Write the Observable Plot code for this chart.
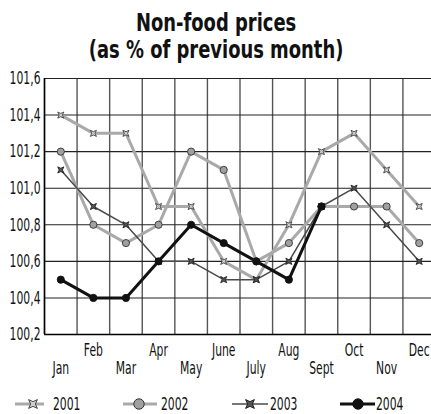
<!DOCTYPE html>
<html>
<head>
<meta charset="utf-8">
<script src="https://cdn.jsdelivr.net/npm/d3@7"></script>
<script src="https://cdn.jsdelivr.net/npm/@observablehq/plot@0.6"></script>
<style>
  html, body { margin: 0; padding: 0; background: #fff; overflow: hidden; }
  body { width: 431px; height: 414px; font-family: "Liberation Sans Narrow", "DejaVu Sans Condensed", "DejaVu Sans", sans-serif; }
  #title { box-sizing: border-box; height: 66px; padding-top: 10px; text-align: center; font-weight: bold; font-size: 24px; line-height: 27px; color: #111; transform: scaleX(0.83); transform-origin: 219px 0; }
  svg { display: block; }
</style>
</head>
<body>
<div id="title">Non-food prices<br>(as % of previous month)</div>
<div id="chart"></div>
<div id="legend"></div>
<script>
const months = ["Jan","Feb","Mar","Apr","May","June","July","Aug","Sept","Oct","Nov","Dec"];
const years = ["2001","2002","2003","2004"];
const v2001 = [101.4,101.3,101.3,100.9,100.9,100.6,100.5,100.8,101.2,101.3,101.1,100.9];
const v2002 = [101.2,100.8,100.7,100.8,101.2,101.1,100.6,100.7,100.9,100.9,100.9,100.7];
const v2003 = [101.1,100.9,100.8,100.6,100.6,100.5,100.5,100.6,100.9,101.0,100.8,100.6];
const v2004 = [100.5,100.4,100.4,100.6,100.8,100.7,100.6,100.5,100.9];
const yTicks = [100.2,100.4,100.6,100.8,101.0,101.2,101.4,101.6];

const FONT = '"Liberation Sans Narrow", "DejaVu Sans Condensed", "DejaVu Sans", sans-serif';
const TEXT_SCALE = "scale(0.8,1.2)";

// four-pointed concave star (x-shaped)
const star4 = {
  draw(ctx, size) {
    const R = Math.sqrt(size / Math.PI) * 1.2;
    const r = R * 0.38;
    for (let i = 0; i < 8; i++) {
      const a = Math.PI / 4 + i * Math.PI / 4;
      const rad = i % 2 === 0 ? R : r;
      const px = rad * Math.cos(a), py = rad * Math.sin(a);
      if (i === 0) ctx.moveTo(px, py); else ctx.lineTo(px, py);
    }
    ctx.closePath();
  }
};

const toRows = (vals) => vals.map((v, i) => ({m: i + 1, v}));
const d2001 = toRows(v2001), d2002 = toRows(v2002), d2003 = toRows(v2003), d2004 = toRows(v2004);

const styles = {
  "2001": {line: "#a9a9a9", lw: 3, symbol: star4, fill: "#cfcfcf", stroke: "#444", r: 3.6},
  "2002": {line: "#a9a9a9", lw: 3, symbol: "circle", fill: "#a0a0a0", stroke: "#333", r: 3.6},
  "2003": {line: "#4a4a4a", lw: 1.5, symbol: star4, fill: "#555", stroke: "#222", r: 3.6},
  "2004": {line: "#111", lw: 3, symbol: "circle", fill: "#111", stroke: "#111", r: 3.6}
};
const dataBy = {"2001": d2001, "2002": d2002, "2003": d2003, "2004": d2004};

const boundaries = d3.range(0, 13).map(i => i + 0.5);
const upperTicks = [2,4,6,8,10,12];
const lowerTicks = [1,3,5,7,9,11];
const fmtY = d => d.toFixed(1).replace(".", ",");

const seriesMarks = [];
for (const y of ["2002","2001","2003","2004"]) {
  const s = styles[y];
  seriesMarks.push(Plot.line(dataBy[y], {x: "m", y: "v", stroke: s.line, strokeWidth: s.lw, strokeLinejoin: "round"}));
}
for (const y of ["2002","2001","2003","2004"]) {
  const s = styles[y];
  seriesMarks.push(Plot.dot(dataBy[y], {x: "m", y: "v", symbol: s.symbol, r: s.r, fill: s.fill, stroke: s.stroke, strokeWidth: 0.9}));
}

const chart = Plot.plot({
  width: 431,
  height: 320,
  marginTop: 12,
  marginBottom: 52,
  marginLeft: 44,
  marginRight: 0,
  style: {fontFamily: FONT, fontSize: "15px", color: "#111", background: "#fff"},
  x: {type: "linear", domain: [0.5, 12.5], range: [44, 435]},
  y: {domain: [100.2, 101.6], range: [268, 12]},
  marks: [
    Plot.ruleX(boundaries, {x: d => d, stroke: "#555", strokeWidth: 1.4}),
    Plot.ruleY(yTicks, {y: d => d, x1: 0.5, x2: 12.5, stroke: "#222", strokeWidth: 1.1}),
    Plot.ruleX([0.5], {stroke: "#000", strokeWidth: 1.5}),
    Plot.ruleY([100.2], {x1: 0.5, x2: 12.5, stroke: "#000", strokeWidth: 1.5}),
    ...seriesMarks,
    Plot.axisY(yTicks, {tickSize: 0, tickPadding: 4, tickFormat: fmtY, fontSize: 15, label: null}),
    Plot.axisX(upperTicks, {tickSize: 0, tickPadding: 9, tickFormat: d => months[d - 1], fontSize: 15, label: null}),
    Plot.axisX(lowerTicks, {tickSize: 0, tickPadding: 27, tickFormat: d => months[d - 1], fontSize: 15, label: null})
  ]
});
// condense tick label text to match the narrow typeface of the original
d3.select(chart).selectAll('g[aria-label$="tick label"] text').each(function() {
  const t = d3.select(this);
  let tr = t.attr("transform");
  if (!tr) {
    const x = +t.attr("x") || 0, y = +t.attr("y") || 0;
    t.attr("x", null).attr("y", null);
    tr = `translate(${x},${y})`;
  }
  t.attr("transform", tr + " " + TEXT_SCALE);
});
document.getElementById("chart").appendChild(chart);

// legend
const legendItems = [
  {year: "2001", x1: 15, x2: 44, mx: 33, tx: 53},
  {year: "2002", x1: 123, x2: 157, mx: 139, tx: 161},
  {year: "2003", x1: 232, x2: 268, mx: 250, tx: 270},
  {year: "2004", x1: 340, x2: 375, mx: 358, tx: 376}
];
const lsvg = d3.create("svg").attr("width", 431).attr("height", 28)
  .style("font-family", FONT).style("font-size", "15px");
const ly = 18;
for (const it of legendItems) {
  const s = styles[it.year];
  const g = lsvg.append("g");
  g.append("line").attr("x1", it.x1).attr("x2", it.x2).attr("y1", ly).attr("y2", ly)
    .attr("stroke", s.line).attr("stroke-width", s.lw);
  const sym = d3.symbol().type(s.symbol === "circle" ? d3.symbolCircle : star4).size(Math.PI * 5.2 * 5.2);
  g.append("path").attr("d", sym()).attr("transform", `translate(${it.mx},${ly})`)
    .attr("fill", s.fill).attr("stroke", s.stroke).attr("stroke-width", 1);
  g.append("text").attr("transform", `translate(${it.tx},${ly}) ${TEXT_SCALE}`).attr("dy", "0.36em").attr("fill", "#111").text(it.year);
}
document.getElementById("legend").appendChild(lsvg.node());
</script>
</body>
</html>
